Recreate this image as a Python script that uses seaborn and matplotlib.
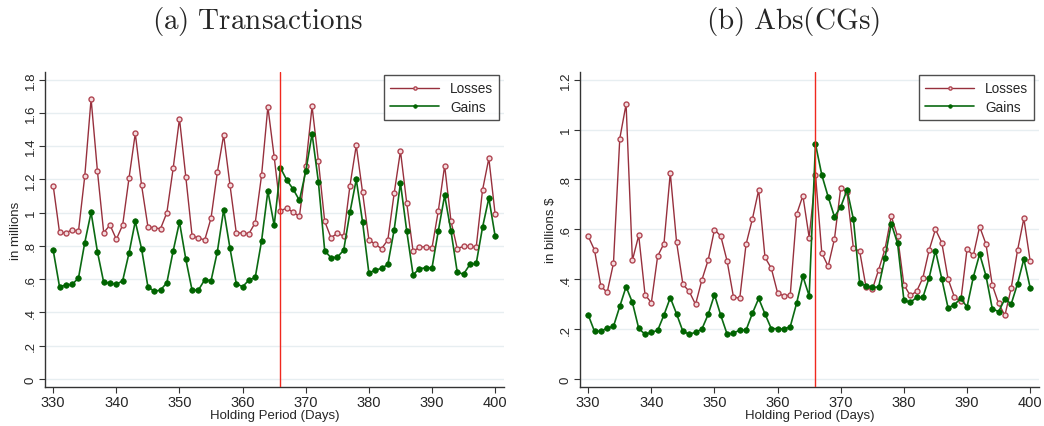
import numpy as np
import pandas as pd
import matplotlib
matplotlib.use("Agg")
import matplotlib.pyplot as plt
import seaborn as sns

# Holding period in days
days = list(range(330, 401))

# Panel (a): number of transactions, in millions
tx_losses = [1.162, 0.882, 0.878, 0.898, 0.888, 1.220, 1.685, 1.252, 0.880, 0.926,
             0.840, 0.926, 1.206, 1.477, 1.164, 0.916, 0.908, 0.904, 1.000, 1.267,
             1.565, 1.216, 0.860, 0.848, 0.836, 0.968, 1.244, 1.467, 1.166, 0.878,
             0.878, 0.874, 0.940, 1.224, 1.637, 1.335, 1.012, 1.028, 1.002, 0.978,
             1.281, 1.639, 1.311, 0.948, 0.850, 0.876, 0.860, 1.162, 1.405, 1.122,
             0.838, 0.810, 0.784, 0.836, 1.116, 1.371, 1.056, 0.768, 0.792, 0.796,
             0.790, 1.012, 1.283, 0.950, 0.784, 0.798, 0.798, 0.794, 1.136, 1.327,
             0.990]
tx_gains = [0.774, 0.555, 0.565, 0.569, 0.607, 0.820, 1.002, 0.766, 0.581, 0.577,
            0.569, 0.591, 0.756, 0.948, 0.782, 0.555, 0.527, 0.535, 0.579, 0.770,
            0.944, 0.721, 0.533, 0.535, 0.597, 0.591, 0.766, 1.018, 0.786, 0.573,
            0.555, 0.595, 0.611, 0.830, 1.130, 0.924, 1.269, 1.196, 1.142, 1.074,
            1.248, 1.475, 1.186, 0.772, 0.729, 0.733, 0.774, 1.002, 1.200, 0.944,
            0.637, 0.655, 0.665, 0.689, 0.896, 1.178, 0.888, 0.627, 0.663, 0.669,
            0.669, 0.892, 1.104, 0.890, 0.641, 0.631, 0.689, 0.695, 0.912, 1.088,
            0.858]

# Panel (b): absolute capital gains, in billions $
cg_losses = [0.572, 0.517, 0.373, 0.347, 0.464, 0.964, 1.102, 0.476, 0.576, 0.338,
             0.306, 0.493, 0.543, 0.826, 0.548, 0.380, 0.351, 0.299, 0.397, 0.477,
             0.599, 0.573, 0.473, 0.330, 0.323, 0.540, 0.641, 0.758, 0.488, 0.444,
             0.345, 0.333, 0.337, 0.660, 0.735, 0.567, 0.819, 0.505, 0.452, 0.561,
             0.767, 0.748, 0.525, 0.512, 0.369, 0.359, 0.438, 0.520, 0.653, 0.572,
             0.378, 0.335, 0.351, 0.405, 0.517, 0.600, 0.547, 0.401, 0.329, 0.311,
             0.520, 0.496, 0.611, 0.541, 0.377, 0.303, 0.255, 0.365, 0.516, 0.644,
             0.473]
cg_gains = [0.257, 0.191, 0.192, 0.204, 0.211, 0.291, 0.370, 0.307, 0.203, 0.179,
            0.187, 0.195, 0.257, 0.326, 0.261, 0.191, 0.180, 0.187, 0.200, 0.259,
            0.338, 0.255, 0.180, 0.184, 0.196, 0.196, 0.263, 0.323, 0.261, 0.202,
            0.202, 0.200, 0.210, 0.303, 0.412, 0.333, 0.942, 0.818, 0.731, 0.651,
            0.690, 0.759, 0.641, 0.384, 0.374, 0.367, 0.369, 0.486, 0.623, 0.544,
            0.317, 0.307, 0.327, 0.327, 0.406, 0.515, 0.402, 0.285, 0.298, 0.323,
            0.289, 0.409, 0.501, 0.414, 0.282, 0.270, 0.321, 0.301, 0.382, 0.481,
            0.366]

cutoff_day = 366

panels = [
    dict(title=r"$\mathrm{(a)\ Transactions}$", ylabel="in millions",
         losses=tx_losses, gains=tx_gains,
         yticks=[0, 0.2, 0.4, 0.6, 0.8, 1.0, 1.2, 1.4, 1.6, 1.8],
         ylim=(-0.048, 1.846)),
    dict(title=r"$\mathrm{(b)\ Abs(CGs)}$", ylabel="in billions $",
         losses=cg_losses, gains=cg_gains,
         yticks=[0, 0.2, 0.4, 0.6, 0.8, 1.0, 1.2],
         ylim=(-0.032, 1.231)),
]

sns.set_theme(style="white")
plt.rcParams["font.family"] = ["Liberation Sans", "DejaVu Sans"]
plt.rcParams["mathtext.fontset"] = "cm"

loss_line = "#97303d"
loss_edge = "#b04652"
gain_line = "#0b6a12"
gain_mark = "#006400"

fig = plt.figure(figsize=(10.44, 4.27), dpi=100)
axes_pos = [[45 / 1044, 39 / 427, 459 / 1044, 315 / 427],
            [580 / 1044, 39 / 427, 459 / 1044, 315 / 427]]
title_x = [257 / 1044, 793 / 1044]


def fmt_tick(v):
    s = f"{v:.1f}".rstrip("0").rstrip(".")
    if s.startswith("0."):
        s = s[1:]
    return s


for pos, tx, p in zip(axes_pos, title_x, panels):
    ax = fig.add_axes(pos)
    df = pd.DataFrame({
        "day": days * 2,
        "value": p["losses"] + p["gains"],
        "series": ["Losses"] * len(days) + ["Gains"] * len(days),
    })
    for y in p["yticks"]:
        ax.axhline(y, color="#e7eef1", lw=1.0, zorder=0)

    sns.lineplot(data=df[df.series == "Losses"], x="day", y="value", ax=ax,
                 color=loss_line, lw=1.0, marker="o", markersize=3.6,
                 markerfacecolor="#f4dcde", markeredgecolor=loss_edge,
                 markeredgewidth=1.0, label="Losses", zorder=3)
    sns.lineplot(data=df[df.series == "Gains"], x="day", y="value", ax=ax,
                 color=gain_line, lw=1.2, marker="o", markersize=4.0,
                 markerfacecolor=gain_mark, markeredgecolor=gain_mark,
                 markeredgewidth=0.5, label="Gains", zorder=4)
    ax.axvline(cutoff_day, color="#f0281e", lw=1.0, zorder=5)

    ax.set_xlim(328.7, 401.4)
    ax.set_ylim(*p["ylim"])
    ax.set_xticks(range(330, 401, 10))
    ax.set_yticks(p["yticks"])
    ax.set_yticklabels([fmt_tick(v) for v in p["yticks"]], rotation=90,
                       va="center")
    ax.tick_params(axis="both", which="major", direction="out", length=4,
                   width=0.8, color="#333333", labelsize=9.5, pad=2,
                   left=True, bottom=True)
    ax.tick_params(axis="x", labelsize=10.5)
    for side in ["top", "right"]:
        ax.spines[side].set_visible(False)
    for side in ["left", "bottom"]:
        ax.spines[side].set_color("#333333")
        ax.spines[side].set_linewidth(1.0)
    ax.set_xlabel("Holding Period (Days)", fontsize=9.5, labelpad=0)
    ax.set_ylabel(p["ylabel"], fontsize=9.5, labelpad=2)

    leg = ax.legend(loc="upper right", bbox_to_anchor=(0.99, 0.99),
                    fontsize=9.8, frameon=True, fancybox=False,
                    handlelength=3.6, handletextpad=0.8, borderpad=0.45,
                    labelspacing=0.35, markerscale=0.65, borderaxespad=0.0)
    leg.get_frame().set_edgecolor("#222222")
    leg.get_frame().set_linewidth(1.0)

    fig.text(tx, 1 - 22 / 427, p["title"], ha="center", va="center",
             fontsize=21)

fig.savefig("out.png", dpi=100, facecolor="white")
